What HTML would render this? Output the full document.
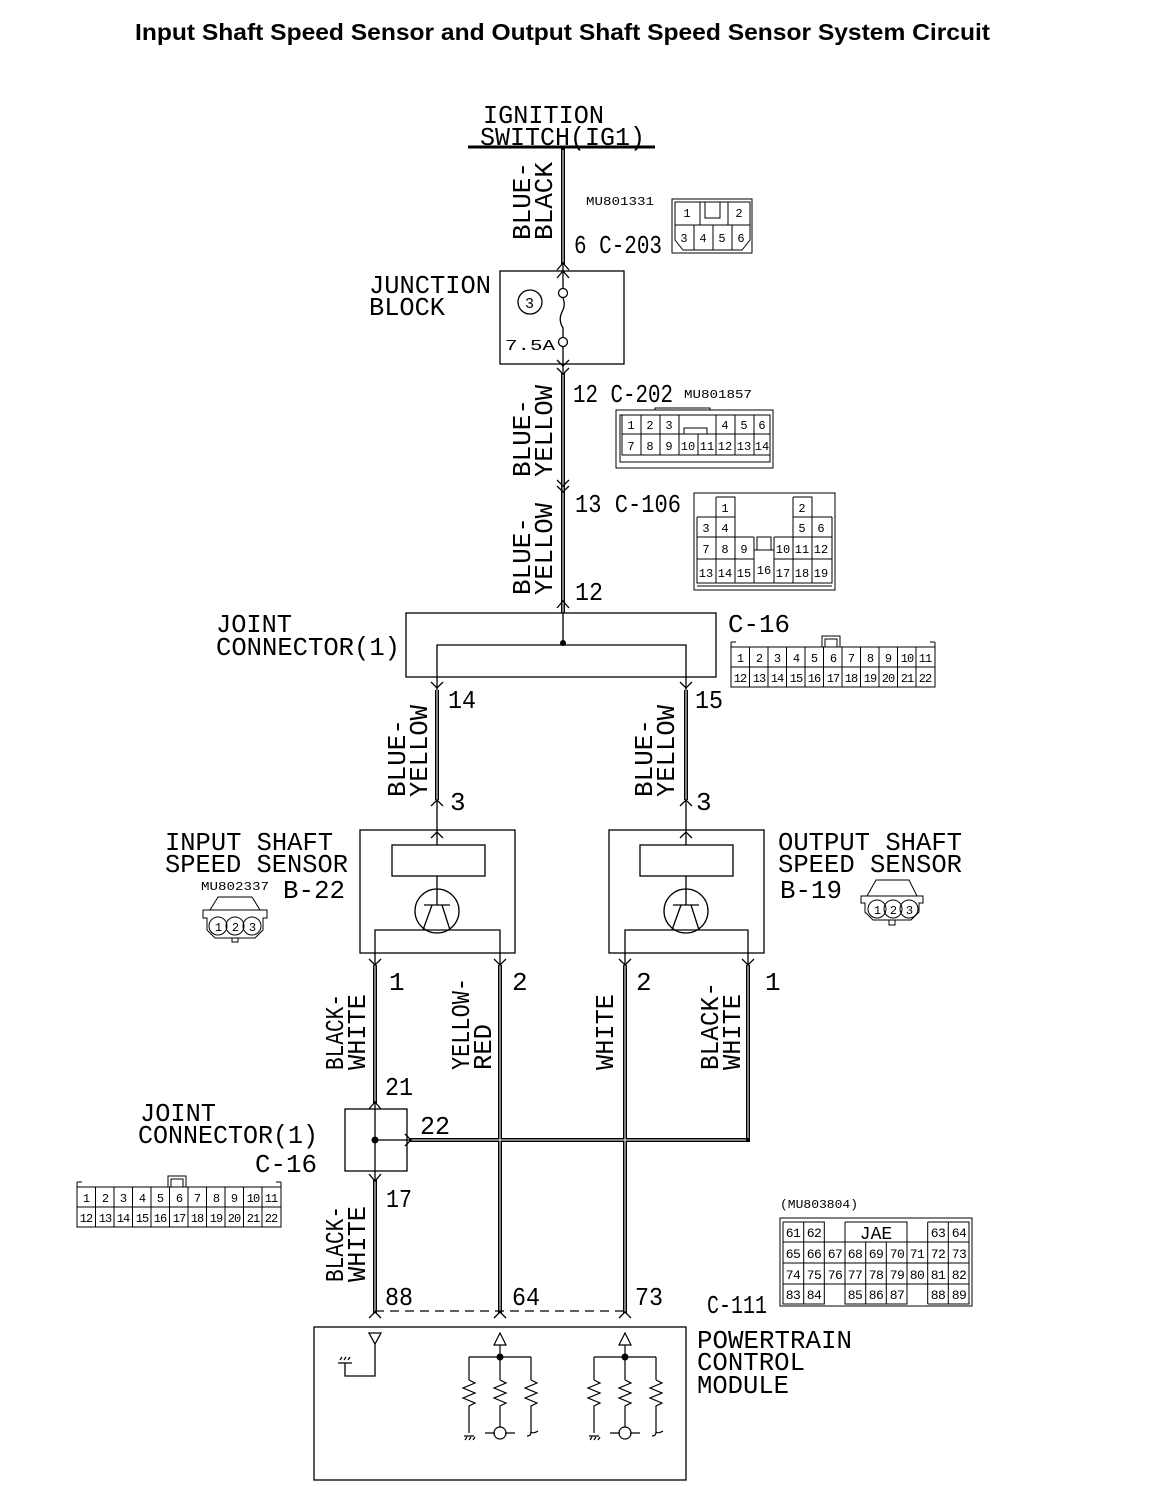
<!DOCTYPE html>
<html><head><meta charset="utf-8"><style>
html,body{margin:0;padding:0;background:#fff}
svg{display:block}
.t{font-family:"Liberation Mono",monospace;fill:#000}
.s{font-family:"Liberation Sans",sans-serif;fill:#000}
</style></head><body>
<svg width="1152" height="1496" viewBox="0 0 1152 1496" xmlns="http://www.w3.org/2000/svg">
<rect width="1152" height="1496" fill="#fff"/>
<text x="135" y="40" class="s" font-size="23" font-weight="bold" textLength="855" lengthAdjust="spacingAndGlyphs">Input Shaft Speed Sensor and Output Shaft Speed Sensor System Circuit</text>

<g class="t" font-size="26">
<text x="483" y="123" textLength="121" lengthAdjust="spacingAndGlyphs">IGNITION</text>
<text x="480" y="145" textLength="165" lengthAdjust="spacingAndGlyphs">SWITCH(IG1)</text>
<text x="369" y="293" textLength="122" lengthAdjust="spacingAndGlyphs">JUNCTION</text>
<text x="369" y="315" textLength="76" lengthAdjust="spacingAndGlyphs">BLOCK</text>
<text x="574" y="253" textLength="88" lengthAdjust="spacingAndGlyphs">6 C-203</text>
<text x="573" y="402" textLength="100" lengthAdjust="spacingAndGlyphs">12 C-202</text>
<text x="575" y="512" textLength="106" lengthAdjust="spacingAndGlyphs">13 C-106</text>
<text x="575" y="600" textLength="28" lengthAdjust="spacingAndGlyphs">12</text>
<text x="216" y="632" textLength="76" lengthAdjust="spacingAndGlyphs">JOINT</text>
<text x="216" y="655" textLength="184" lengthAdjust="spacingAndGlyphs">CONNECTOR(1)</text>
<text x="728" y="632" textLength="62" lengthAdjust="spacingAndGlyphs">C-16</text>
<text x="448" y="708" textLength="28" lengthAdjust="spacingAndGlyphs">14</text>
<text x="695" y="708" textLength="28" lengthAdjust="spacingAndGlyphs">15</text>
<text x="450" y="810">3</text>
<text x="696" y="810">3</text>
<text x="165" y="850" textLength="168" lengthAdjust="spacingAndGlyphs">INPUT SHAFT</text>
<text x="165" y="872" textLength="183" lengthAdjust="spacingAndGlyphs">SPEED SENSOR</text>
<text x="283" y="898" textLength="62" lengthAdjust="spacingAndGlyphs">B-22</text>
<text x="778" y="850" textLength="184" lengthAdjust="spacingAndGlyphs">OUTPUT SHAFT</text>
<text x="778" y="872" textLength="184" lengthAdjust="spacingAndGlyphs">SPEED SENSOR</text>
<text x="780" y="898" textLength="62" lengthAdjust="spacingAndGlyphs">B-19</text>
<text x="389" y="990">1</text>
<text x="512" y="990">2</text>
<text x="636" y="990">2</text>
<text x="765" y="990">1</text>
<text x="385" y="1095" textLength="28" lengthAdjust="spacingAndGlyphs">21</text>
<text x="420" y="1134" textLength="30" lengthAdjust="spacingAndGlyphs">22</text>
<text x="386" y="1207" textLength="26" lengthAdjust="spacingAndGlyphs">17</text>
<text x="140" y="1121" textLength="76" lengthAdjust="spacingAndGlyphs">JOINT</text>
<text x="138" y="1143" textLength="180" lengthAdjust="spacingAndGlyphs">CONNECTOR(1)</text>
<text x="255" y="1172" textLength="62" lengthAdjust="spacingAndGlyphs">C-16</text>
<text x="385" y="1305" textLength="28" lengthAdjust="spacingAndGlyphs">88</text>
<text x="512" y="1305" textLength="28" lengthAdjust="spacingAndGlyphs">64</text>
<text x="635" y="1305" textLength="28" lengthAdjust="spacingAndGlyphs">73</text>
<text x="707" y="1313" textLength="60" lengthAdjust="spacingAndGlyphs">C-111</text>
<text x="697" y="1348" textLength="155" lengthAdjust="spacingAndGlyphs">POWERTRAIN</text>
<text x="697" y="1370" textLength="108" lengthAdjust="spacingAndGlyphs">CONTROL</text>
<text x="697" y="1393" textLength="92" lengthAdjust="spacingAndGlyphs">MODULE</text>
<text transform="translate(530,240) rotate(-90)" textLength="78" lengthAdjust="spacingAndGlyphs">BLUE-</text>
<text transform="translate(552,240) rotate(-90)" textLength="78" lengthAdjust="spacingAndGlyphs">BLACK</text>
<text transform="translate(530,477) rotate(-90)" textLength="78" lengthAdjust="spacingAndGlyphs">BLUE-</text>
<text transform="translate(552,477) rotate(-90)" textLength="92" lengthAdjust="spacingAndGlyphs">YELLOW</text>
<text transform="translate(530,595) rotate(-90)" textLength="78" lengthAdjust="spacingAndGlyphs">BLUE-</text>
<text transform="translate(552,595) rotate(-90)" textLength="92" lengthAdjust="spacingAndGlyphs">YELLOW</text>
<text transform="translate(405,797) rotate(-90)" textLength="78" lengthAdjust="spacingAndGlyphs">BLUE-</text>
<text transform="translate(427,797) rotate(-90)" textLength="92" lengthAdjust="spacingAndGlyphs">YELLOW</text>
<text transform="translate(652,797) rotate(-90)" textLength="78" lengthAdjust="spacingAndGlyphs">BLUE-</text>
<text transform="translate(674,797) rotate(-90)" textLength="92" lengthAdjust="spacingAndGlyphs">YELLOW</text>
<text transform="translate(343,1070) rotate(-90)" textLength="76" lengthAdjust="spacingAndGlyphs">BLACK-</text>
<text transform="translate(365,1070) rotate(-90)" textLength="76" lengthAdjust="spacingAndGlyphs">WHITE</text>
<text transform="translate(469,1070) rotate(-90)" textLength="92" lengthAdjust="spacingAndGlyphs">YELLOW-</text>
<text transform="translate(491,1070) rotate(-90)" textLength="46" lengthAdjust="spacingAndGlyphs">RED</text>
<text transform="translate(613,1070) rotate(-90)" textLength="76" lengthAdjust="spacingAndGlyphs">WHITE</text>
<text transform="translate(718,1070) rotate(-90)" textLength="88" lengthAdjust="spacingAndGlyphs">BLACK-</text>
<text transform="translate(740,1070) rotate(-90)" textLength="76" lengthAdjust="spacingAndGlyphs">WHITE</text>
<text transform="translate(343,1282) rotate(-90)" textLength="76" lengthAdjust="spacingAndGlyphs">BLACK-</text>
<text transform="translate(365,1282) rotate(-90)" textLength="76" lengthAdjust="spacingAndGlyphs">WHITE</text>
</g>

<g class="t" font-size="12">
<text x="586" y="205" textLength="68" lengthAdjust="spacingAndGlyphs">MU801331</text>
<text x="684" y="398" textLength="68" lengthAdjust="spacingAndGlyphs">MU801857</text>
<text x="201" y="890" textLength="68" lengthAdjust="spacingAndGlyphs">MU802337</text>
<text x="780" y="1208" textLength="78" lengthAdjust="spacingAndGlyphs">(MU803804)</text>
</g>

<g stroke="#000" fill="none">
<line x1="468" y1="147" x2="655" y2="147" stroke-width="3"/>
<g stroke-width="4">
<line x1="563" y1="147" x2="563" y2="264"/>
<line x1="563" y1="372" x2="563" y2="613"/>
<line x1="437" y1="690" x2="437" y2="800"/>
<line x1="686" y1="690" x2="686" y2="800"/>
<line x1="375" y1="965" x2="375" y2="1103"/>
<line x1="375" y1="1180" x2="375" y2="1313"/>
<line x1="500" y1="965" x2="500" y2="1313"/>
<line x1="625" y1="965" x2="625" y2="1313"/>
<line x1="748" y1="965" x2="748" y2="1142"/>
<line x1="410" y1="1140" x2="750" y2="1140"/>
</g>
<g stroke="#fff" stroke-width="1">
<line x1="563" y1="150" x2="563" y2="264"/>
<line x1="563" y1="372" x2="563" y2="613"/>
<line x1="437" y1="690" x2="437" y2="800"/>
<line x1="686" y1="690" x2="686" y2="800"/>
<line x1="375" y1="965" x2="375" y2="1103"/>
<line x1="375" y1="1180" x2="375" y2="1313"/>
<line x1="500" y1="965" x2="500" y2="1313"/>
<line x1="625" y1="965" x2="625" y2="1313"/>
<line x1="748" y1="965" x2="748" y2="1138"/>
<line x1="410" y1="1140" x2="746" y2="1140"/>
</g>
<g stroke-width="1.3">
<rect x="500" y="271" width="124" height="93"/>
<circle cx="530" cy="302" r="12"/>
<line x1="563" y1="264" x2="563" y2="288"/>
<circle cx="563" cy="293" r="4.5"/>
<path d="M563 298 Q566 305 562 312 Q558 320 563 328 L563 337"/>
<circle cx="563" cy="342" r="4.5"/>
<line x1="563" y1="347" x2="563" y2="372"/>
<path d="M557 270 L563 263 L569 270 M557 278 L563 271 L569 278"/>
<path d="M557 360 L563 366 L569 360 M557 368 L563 374 L569 368"/>
<path d="M557 480 L563 486 L569 480 M557 486 L563 492 L569 486"/>
<path d="M557 608 L563 601 L569 608"/>
<rect x="406" y="613" width="310" height="64"/>
<path d="M437 690 L437 645 L686 645 L686 690 M563 613 L563 645"/>
<path d="M431 682 L437 688 L443 682 M680 682 L686 688 L692 682"/>
<path d="M431 806 L437 800 L443 806 M680 806 L686 800 L692 806"/>
<rect x="360" y="830" width="155" height="123"/>
<rect x="392" y="845" width="93" height="31"/>
<path d="M437 800 L437 845 M437 876 L437 905 M424 905 L450 905 M432 905 L423 930 M442 905 L450 930"/>
<circle cx="437" cy="911" r="22"/>
<path d="M375 965 L375 930 L500 930 L500 965"/>
<path d="M431 838 L437 832 L443 838"/>
<path d="M369 959 L375 965 L381 959 M494 959 L500 965 L506 959"/>
<rect x="609" y="830" width="155" height="123"/>
<rect x="640" y="845" width="93" height="31"/>
<path d="M686 800 L686 845 M686 876 L686 905 M673 905 L699 905 M681 905 L672 930 M691 905 L699 930"/>
<circle cx="686" cy="911" r="22"/>
<path d="M625 965 L625 930 L748 930 L748 965"/>
<path d="M680 838 L686 832 L692 838"/>
<path d="M619 959 L625 965 L631 959 M742 959 L748 965 L754 959"/>
<rect x="345" y="1109" width="62" height="62"/>
<path d="M375 1103 L375 1180 M375 1140 L410 1140"/>
<path d="M369 1109 L375 1102 L381 1109"/>
<path d="M369 1174 L375 1181 L381 1174"/>
<path d="M405 1134 L411 1140 L405 1146"/>
<line x1="375" y1="1311" x2="625" y2="1311" stroke-dasharray="9,6"/>
<path d="M369 1318 L375 1312 L381 1318 M494 1318 L500 1312 L506 1318 M619 1318 L625 1312 L631 1318"/>
<rect x="314" y="1327" width="372" height="153"/>
<path d="M369 1333 L381 1333 L375 1344 Z M375 1344 L375 1376 L345 1376 L345 1363 M338 1363 L352 1363 M340 1360 L342 1357 M344 1360 L346 1357 M348 1360 L350 1357"/>
</g>
</g>
<g stroke="#000" fill="none" stroke-width="1.2">
<path id="pc" d="M494 1345 L506 1345 L500 1333 Z M500 1345 L500 1380 M469 1357 L531 1357 M469 1357 L469 1380 M531 1357 L531 1380 M469 1380 l6 3 l-12 5 l12 5 l-12 5 l12 5 l-6 3 L469 1433 M500 1380 l6 3 l-12 5 l12 5 l-12 5 l12 5 l-6 3 L500 1427 M531 1380 l6 3 l-12 5 l12 5 l-12 5 l12 5 l-6 3 L531 1432 Q531 1436 527 1436 M531 1432 Q533 1434 538 1431 M464 1436 L474 1436 M465 1440 l2 -3 M469 1440 l2 -3 M473 1440 l2 -3 M485 1433 L495 1433 M505 1433 L515 1433"/>
<circle cx="500" cy="1433" r="6"/>
<use href="#pc" x="125"/>
<circle cx="625" cy="1433" r="6"/>
</g>
<circle cx="563" cy="643" r="3" fill="#000"/>
<circle cx="375" cy="1140" r="3.5" fill="#000"/>
<circle cx="500" cy="1357" r="3.5" fill="#000"/>
<circle cx="625" cy="1357" r="3.5" fill="#000"/>
<g class="t" font-size="15"><text x="525" y="308">3</text><text x="505" y="350" textLength="50" lengthAdjust="spacingAndGlyphs">7.5A</text></g>

<g stroke="#000" fill="none" stroke-width="1">
<rect x="672" y="199" width="80" height="54"/>
<path d="M675 202 L750 202 L750 240 L742 250 L683 250 L675 240 Z M675 225 L750 225 M700 202 L700 225 M728 202 L728 225 M705 202 L705 218 L720 218 L720 202 M694 225 L694 250 M713 225 L713 250 M732 225 L732 250"/>
<rect x="616" y="410" width="157" height="58"/>
<path d="M620 415 L770 415 L770 462 L620 462 Z M622 415 L622 455 L770 455 M622 434 L679 434 M716 434 L770 434 M641 415 L641 455 M660 415 L660 455 M679 415 L679 455 M698 434 L698 455 M716 415 L716 455 M735 415 L735 455 M754 415 L754 455 M684 434 L684 428 L707 428 L707 434 M679 434 L716 434 M655 410 L655 408 L710 408 L710 410"/>
<rect x="694" y="493" width="141" height="97"/>
<path d="M697 583 L832 583 M697 517 L697 583 L832 583 L832 517 M716 497 L735 497 L735 537 M716 497 L716 583 M793 497 L812 497 L812 583 M793 497 L793 583 M697 517 L735 517 M793 517 L832 517 M697 537 L754 537 M774 537 L832 537 M697 559 L754 559 M774 559 L832 559 M735 537 L735 583 M754 537 L754 583 M774 537 L774 583 M754 550 L774 550 M757 550 L757 537 L771 537 L771 550 M697 586 L832 586"/>
<path d="M731 647 L935 647 L935 687 L731 687 Z M731 667 L935 667 M731 642 L731 647 M731 642 L736 642 M935 642 L930 642 M935 642 L935 647 M822 647 L822 636 L840 636 L840 647 M825 647 L825 639 L837 639 L837 647"/>
<path d="M749.5 647 V687 M768 647 V687 M786.5 647 V687 M805 647 V687 M823.5 647 V687 M842 647 V687 M860.5 647 V687 M879 647 V687 M897.5 647 V687 M916 647 V687"/>
<path d="M77 1187 L281 1187 L281 1227 L77 1227 Z M77 1207 L281 1207 M77 1182 L77 1187 M77 1182 L82 1182 M281 1182 L281 1187 M281 1182 L276 1182 M168 1187 L168 1176 L186 1176 L186 1187 M171 1187 L171 1179 L183 1179 L183 1187"/>
<path d="M95.5 1187 V1227 M114 1187 V1227 M132.5 1187 V1227 M151 1187 V1227 M169.5 1187 V1227 M188 1187 V1227 M206.5 1187 V1227 M225 1187 V1227 M243.5 1187 V1227 M262 1187 V1227"/>
<!-- JAE 9 cols: 783,803.7,824.3,845,865.7,886.3,907,927.7,948.3,969 -->
<rect x="780" y="1218" width="192" height="88"/>
<path d="M783 1222 L824.3 1222 L824.3 1242 M783 1222 V1304 L824.3 1304 L824.3 1284 M783 1242 L969 1242 M783 1263 L969 1263 M783 1284 L969 1284 M803.7 1222 V1304 M824.3 1242 V1284 M845 1222 L907 1222 L907 1242 M845 1222 V1304 L907 1304 L907 1284 M865.7 1242 V1304 M886.3 1242 V1304 M907 1242 V1284 M927.7 1222 V1304 M927.7 1222 L969 1222 L969 1304 L927.7 1304 M948.3 1222 V1304"/>
<path d="M218 897 L252 897 L260 910 L267 910 L267 918 L263 918 L263 930 L255 938 L215 938 L207 930 L207 918 L203 918 L203 910 L210 910 Z M208 910 L262 910 M232 938 L232 942 L238 942 L238 938"/>
<circle cx="218" cy="926" r="9"/><circle cx="235" cy="926" r="9"/><circle cx="252" cy="926" r="9"/>
<path d="M876 880 L909 880 L917 896 L923 896 L923 903 L919 903 L919 912 L911 920 L873 920 L865 912 L865 903 L861 903 L861 896 L867 896 Z M866 896 L918 896 M889 920 L889 925 L895 925 L895 920"/>
<circle cx="877" cy="909" r="9"/><circle cx="893" cy="909" r="9"/><circle cx="909" cy="909" r="9"/>
</g>
<g class="t" font-size="12" text-anchor="middle">
<text x="687" y="217">1</text><text x="739" y="217">2</text>
<text x="684" y="242">3</text><text x="703" y="242">4</text><text x="722" y="242">5</text><text x="741" y="242">6</text>
<text x="631" y="429">1</text><text x="650" y="429">2</text><text x="669" y="429">3</text><text x="725" y="429">4</text><text x="744" y="429">5</text><text x="762" y="429">6</text>
<text x="631" y="450">7</text><text x="650" y="450">8</text><text x="669" y="450">9</text><text x="688" y="450">10</text><text x="707" y="450">11</text><text x="725" y="450">12</text><text x="744" y="450">13</text><text x="762" y="450">14</text>
<text x="725" y="512">1</text><text x="802" y="512">2</text>
<text x="706" y="532">3</text><text x="725" y="532">4</text><text x="802" y="532">5</text><text x="821" y="532">6</text>
<text x="706" y="553">7</text><text x="725" y="553">8</text><text x="744" y="553">9</text><text x="783" y="553">10</text><text x="802" y="553">11</text><text x="821" y="553">12</text>
<text x="706" y="577">13</text><text x="725" y="577">14</text><text x="744" y="577">15</text><text x="764" y="574">16</text><text x="783" y="577">17</text><text x="802" y="577">18</text><text x="821" y="577">19</text>
</g>
<g class="t" font-size="12" text-anchor="middle" letter-spacing="-1">
<text x="740" y="662">1</text><text x="759" y="662">2</text><text x="777" y="662">3</text><text x="796" y="662">4</text><text x="814" y="662">5</text><text x="833" y="662">6</text><text x="851" y="662">7</text><text x="870" y="662">8</text><text x="888" y="662">9</text><text x="907" y="662">10</text><text x="925" y="662">11</text>
<text x="740" y="682">12</text><text x="759" y="682">13</text><text x="777" y="682">14</text><text x="796" y="682">15</text><text x="814" y="682">16</text><text x="833" y="682">17</text><text x="851" y="682">18</text><text x="870" y="682">19</text><text x="888" y="682">20</text><text x="907" y="682">21</text><text x="925" y="682">22</text>
<text x="86" y="1202">1</text><text x="105" y="1202">2</text><text x="123" y="1202">3</text><text x="142" y="1202">4</text><text x="160" y="1202">5</text><text x="179" y="1202">6</text><text x="197" y="1202">7</text><text x="216" y="1202">8</text><text x="234" y="1202">9</text><text x="253" y="1202">10</text><text x="271" y="1202">11</text>
<text x="86" y="1222">12</text><text x="105" y="1222">13</text><text x="123" y="1222">14</text><text x="142" y="1222">15</text><text x="160" y="1222">16</text><text x="179" y="1222">17</text><text x="197" y="1222">18</text><text x="216" y="1222">19</text><text x="234" y="1222">20</text><text x="253" y="1222">21</text><text x="271" y="1222">22</text>
</g>
<g class="t" font-size="13" text-anchor="middle" letter-spacing="-0.5">
<text x="793" y="1237">61</text><text x="814" y="1237">62</text><text x="938" y="1237">63</text><text x="959" y="1237">64</text>
<text x="793" y="1258">65</text><text x="814" y="1258">66</text><text x="835" y="1258">67</text><text x="855" y="1258">68</text><text x="876" y="1258">69</text><text x="897" y="1258">70</text><text x="917" y="1258">71</text><text x="938" y="1258">72</text><text x="959" y="1258">73</text>
<text x="793" y="1279">74</text><text x="814" y="1279">75</text><text x="835" y="1279">76</text><text x="855" y="1279">77</text><text x="876" y="1279">78</text><text x="897" y="1279">79</text><text x="917" y="1279">80</text><text x="938" y="1279">81</text><text x="959" y="1279">82</text>
<text x="793" y="1299">83</text><text x="814" y="1299">84</text><text x="855" y="1299">85</text><text x="876" y="1299">86</text><text x="897" y="1299">87</text><text x="938" y="1299">88</text><text x="959" y="1299">89</text>
</g>
<g class="t" font-size="12" text-anchor="middle" letter-spacing="-1">
<text x="218" y="931">1</text><text x="235" y="931">2</text><text x="252" y="931">3</text>
<text x="877" y="914">1</text><text x="893" y="914">2</text><text x="909" y="914">3</text>
</g>
<text x="876" y="1239" class="t" font-size="18" text-anchor="middle">JAE</text>
</svg>
</body></html>
